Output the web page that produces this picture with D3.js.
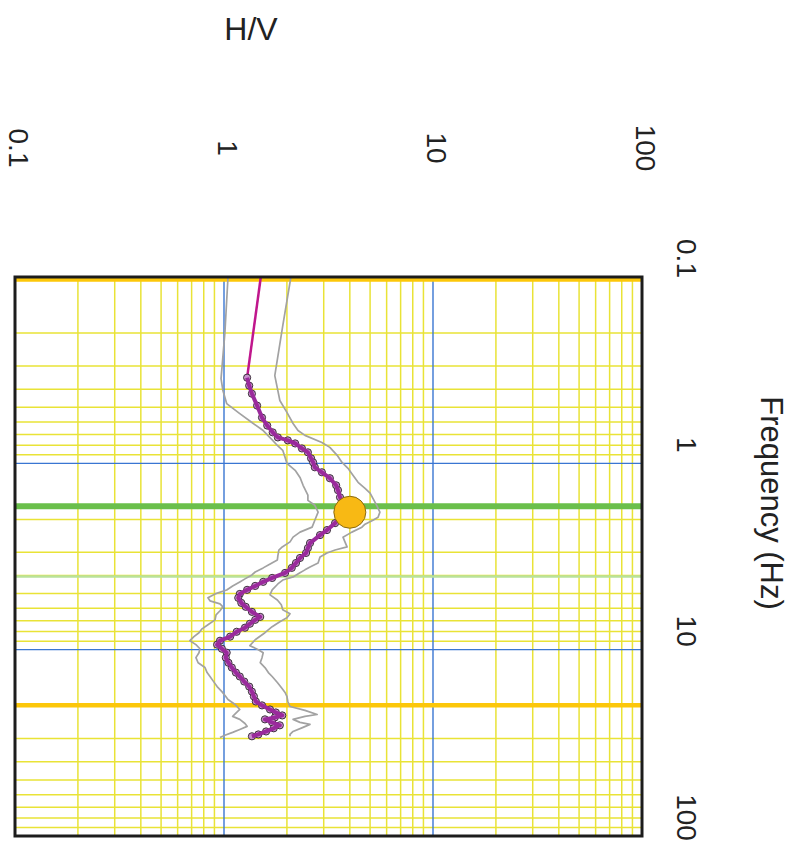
<!DOCTYPE html>
<html>
<head>
<meta charset="utf-8">
<script src="https://d3js.org/d3.v7.min.js"></script>
<style>
  body { margin: 0; background: #fff; }
  text { font-family: "Liberation Sans", Arial, sans-serif; fill: #222; }
</style>
</head>
<body>
<script>
// mean H/V curve (magenta with markers)
var freqMean = [0.1, 0.347, 0.383, 0.423, 0.49, 0.568, 0.627, 0.682, 0.726, 0.753, 0.782, 0.832, 0.873, 0.94, 0.989,
  1.05, 1.117, 1.202, 1.312, 1.393, 1.521, 1.679, 1.828, 1.968, 2.094, 2.281, 2.427, 2.679, 2.851, 3.027,
  3.221, 3.427, 3.639, 3.873, 4.121, 4.325, 4.55, 4.775, 5.023, 5.272, 5.61, 5.888, 6.266, 6.668, 6.918,
  7.261, 7.621, 8.017, 8.511, 8.954, 9.397, 9.886, 10.38, 11.04, 11.75, 12.47, 13.27, 13.93, 14.83, 15.78,
  16.79, 17.82, 18.97, 19.91, 20.94, 21.73, 22.54, 23.12, 23.66, 24.55, 25.47, 26.42, 27.48, 28.51, 29.17];
var hvMean = [1.50, 1.29, 1.32, 1.36, 1.44, 1.52, 1.61, 1.71, 1.81, 2.02, 2.19, 2.36, 2.52, 2.61, 2.67,
  2.72, 2.94, 3.21, 3.44, 3.51, 3.59, 3.79, 3.79, 3.59, 3.40, 3.11, 2.88, 2.58, 2.52, 2.47,
  2.31, 2.21, 2.11, 1.96, 1.70, 1.54, 1.41, 1.29, 1.19, 1.17, 1.21, 1.27, 1.36, 1.49, 1.41,
  1.33, 1.26, 1.15, 1.07, 0.957, 0.927, 0.977, 1.03, 1.02, 1.05, 1.09, 1.14, 1.19, 1.25, 1.32,
  1.36, 1.39, 1.42, 1.52, 1.66, 1.77, 1.90, 1.75, 1.57, 1.70, 1.85, 1.73, 1.59, 1.46, 1.36];

// lower std curve (grey)
var freqLow = [0.1, 0.199, 0.351, 0.407, 0.478, 0.541, 0.604, 0.667, 0.753, 0.802, 0.851, 0.929, 1.0, 1.09, 1.19,
  1.312, 1.48, 1.58, 1.679, 1.828, 2.02, 2.2, 2.34, 2.49, 2.64, 2.81, 2.92, 3.14, 3.3, 3.51,
  3.64, 3.83, 3.97, 4.17, 4.33, 4.55, 4.78, 5.02, 5.27, 5.47, 5.68, 5.89, 6.18, 6.5, 6.92,
  7.35, 7.73, 8.11, 8.51, 8.95, 9.4, 9.89, 10.38, 11.04, 11.75, 12.47, 13.27, 13.93, 14.66, 15.78,
  16.79, 17.82, 18.5, 19.68, 20.94, 21.73, 22.8, 23.66, 24.9, 25.8, 26.8, 27.8, 28.8, 29.6];
var hvLow = [1.045, 1.01, 0.968, 0.988, 1.03, 1.19, 1.36, 1.54, 1.71, 1.80, 1.91, 1.96, 2.00, 2.19, 2.31,
  2.39, 2.52, 2.52, 2.72, 2.82, 2.72, 2.64, 2.31, 2.14, 2.07, 1.90, 1.83, 1.81, 1.80, 1.63,
  1.54, 1.41, 1.36, 1.26, 1.19, 1.10, 1.03, 0.906, 0.838, 0.857, 0.957, 0.988, 0.957, 0.916, 0.906,
  0.838, 0.785, 0.759, 0.718, 0.687, 0.734, 0.767, 0.759, 0.734, 0.752, 0.811, 0.830, 0.857, 0.885, 0.927,
  0.977, 1.02, 1.045, 1.13, 1.19, 1.15, 1.10, 1.19, 1.26, 1.29, 1.19, 1.10, 1.01, 0.957];

// upper std curve (grey)
var freqHigh = [0.1, 0.183, 0.338, 0.407, 0.46, 0.533, 0.611, 0.667, 0.708, 0.773, 0.821, 0.906, 0.989, 1.064, 1.159,
  1.264, 1.361, 1.445, 1.58, 1.698, 1.828, 1.945, 2.02, 2.12, 2.2, 2.34, 2.49, 2.64, 2.81, 2.92,
  3.03, 3.18, 3.43, 3.6, 3.73, 3.87, 4.07, 4.23, 4.44, 4.78, 5.08, 5.41, 5.74, 6.11, 6.41,
  6.75, 7.08, 7.53, 8.11, 8.85, 9.52, 10.0, 10.38, 11.04, 11.75, 12.47, 13.27, 13.93, 15.0, 15.96,
  16.98, 17.82, 18.97, 20.18, 21.18, 22.28, 22.8, 23.66, 24.55, 25.18, 26.12, 27.48, 28.51, 29.17];
var hvHigh = [2.09, 1.91, 1.75, 1.81, 1.85, 2.00, 2.14, 2.26, 2.44, 2.94, 3.21, 3.48, 3.67, 3.92, 4.14,
  4.38, 4.73, 5.00, 5.22, 5.40, 5.57, 5.46, 5.16, 4.73, 4.57, 4.09, 3.71, 3.79, 3.88, 3.40,
  3.11, 2.88, 2.82, 2.58, 2.44, 2.31, 2.14, 1.91, 1.81, 1.70, 1.66, 1.80, 1.88, 1.91, 2.07,
  2.00, 1.85, 1.70, 1.57, 1.41, 1.33, 1.46, 1.54, 1.52, 1.49, 1.57, 1.63, 1.70, 1.80, 1.88,
  1.96, 2.00, 2.02, 2.07, 2.44, 2.79, 2.44, 2.14, 2.31, 2.58, 2.39, 2.14, 2.07, 2.07];

// peak and marker lines
var peakFreq = 1.83, peakHV = 4.0;
var greenFreq = 1.70;
var lightGreenFreq = 4.05;
var limitFreqs = [0.103, 19.9];

// tick labels
var hvTicks = [0.1, 1, 10, 100];
var freqTicks = [0.1, 1, 10, 100];
var majorLines = [1, 10];

var width = 801, height = 856;

var svg = d3.select("body").append("svg")
    .attr("width", width)
    .attr("height", height);

svg.append("rect").attr("width", width).attr("height", height).attr("fill", "#fff");

// chart is printed rotated: H/V runs left->right, frequency runs top->bottom
var x = d3.scaleLog().domain([0.1, 100]).range([15, 642]);
var y = d3.scaleLog().domain([0.1, 100]).range([277, 836]);

var plot = svg.append("g");

// minor yellow grid
var xMinor = x.ticks().filter(function(d) { return majorLines.indexOf(d) < 0 && d > 0.1 && d < 100 });
var yMinor = y.ticks().filter(function(d) { return majorLines.indexOf(d) < 0 && d > 0.1 && d < 100 });

plot.selectAll(".vminor").data(xMinor).enter().append("line")
    .attr("x1", function(d) { return x(d) }).attr("x2", function(d) { return x(d) })
    .attr("y1", y(0.1)).attr("y2", y(100))
    .attr("stroke", "#e9e336").attr("stroke-width", 1.5);

plot.selectAll(".hminor").data(yMinor).enter().append("line")
    .attr("y1", function(d) { return y(d) }).attr("y2", function(d) { return y(d) })
    .attr("x1", x(0.1)).attr("x2", x(100))
    .attr("stroke", "#e9e336").attr("stroke-width", 1.5);

// decade lines in blue
plot.selectAll(".vmajor").data(majorLines).enter().append("line")
    .attr("x1", function(d) { return x(d) }).attr("x2", function(d) { return x(d) })
    .attr("y1", y(0.1)).attr("y2", y(100))
    .attr("stroke", "#3a76d2").attr("stroke-width", 1.4);

plot.selectAll(".hmajor").data(majorLines).enter().append("line")
    .attr("y1", function(d) { return y(d) }).attr("y2", function(d) { return y(d) })
    .attr("x1", x(0.1)).attr("x2", x(100))
    .attr("stroke", "#3a76d2").attr("stroke-width", 1.4);

// frequency marker lines
plot.append("line")
    .attr("x1", x(0.1)).attr("x2", x(100))
    .attr("y1", y(lightGreenFreq)).attr("y2", y(lightGreenFreq))
    .attr("stroke", "#b9e29a").attr("stroke-width", 2.5);

plot.append("line")
    .attr("x1", x(0.1)).attr("x2", x(100))
    .attr("y1", y(greenFreq)).attr("y2", y(greenFreq))
    .attr("stroke", "#6abf4b").attr("stroke-width", 6);

plot.selectAll(".limit").data(limitFreqs).enter().append("line")
    .attr("x1", x(0.1)).attr("x2", x(100))
    .attr("y1", function(d) { return y(d) }).attr("y2", function(d) { return y(d) })
    .attr("stroke", "#fcc70a").attr("stroke-width", 4.5);

// curves
var line = d3.line()
    .x(function(d) { return x(d[1]) })
    .y(function(d) { return y(d[0]) });

var meanData = d3.zip(freqMean, hvMean);
var lowData = d3.zip(freqLow, hvLow);
var highData = d3.zip(freqHigh, hvHigh);

plot.selectAll(".std").data([lowData, highData]).enter().append("path")
    .attr("d", line)
    .attr("fill", "none")
    .attr("stroke", "#a2a2a2")
    .attr("stroke-width", 1.7)
    .attr("stroke-linejoin", "round");

// straight extrapolated part at low frequency
plot.append("path")
    .datum(meanData.slice(0, 2))
    .attr("d", line)
    .attr("fill", "none")
    .attr("stroke", "#c0168c")
    .attr("stroke-width", 2.5);

// markers first, line on top gives the purple band look
plot.selectAll(".marker").data(meanData.slice(1)).enter().append("circle")
    .attr("cx", function(d) { return x(d[1]) })
    .attr("cy", function(d) { return y(d[0]) })
    .attr("r", 3.6)
    .attr("fill", "#c890cc")
    .attr("stroke", "#2a222a")
    .attr("stroke-width", 0.9);

plot.append("path")
    .datum(meanData.slice(1))
    .attr("d", line)
    .attr("fill", "none")
    .attr("stroke", "#9a2a9c")
    .attr("stroke-width", 4)
    .attr("stroke-linejoin", "round");

plot.append("circle")
    .attr("cx", x(peakHV))
    .attr("cy", y(peakFreq))
    .attr("r", 16)
    .attr("fill", "#f8b914")
    .attr("stroke", "#8a6a10")
    .attr("stroke-width", 1);

// frame
plot.append("rect")
    .attr("x", x(0.1)).attr("y", y(0.1))
    .attr("width", x(100) - x(0.1))
    .attr("height", y(100) - y(0.1))
    .attr("fill", "none")
    .attr("stroke", "#1c1c1c")
    .attr("stroke-width", 3);

// H/V axis labels (above the plot)
var fmt = function(d) { return d < 1 ? "0.1" : d3.format("d")(d) };

var hvAxis = svg.append("g")
    .attr("transform", "translate(0,148)")
    .call(d3.axisTop(x).tickValues(hvTicks).tickFormat(fmt).tickSize(0));
hvAxis.select(".domain").remove();
hvAxis.selectAll("text")
    .attr("x", 0).attr("y", 0).attr("dy", "0.35em")
    .attr("transform", "translate(3,0) rotate(90)")
    .style("text-anchor", "middle")
    .style("font-size", "28px")
    .style("font-family", "Liberation Sans, Arial, sans-serif")
    .attr("fill", "#222");

// frequency axis labels (right of the plot)
var fAxis = svg.append("g")
    .attr("transform", "translate(687,0)")
    .call(d3.axisRight(y).tickValues(freqTicks).tickFormat(fmt).tickSize(0));
fAxis.select(".domain").remove();
fAxis.selectAll("text")
    .attr("x", 0).attr("y", 0).attr("dy", "0.35em")
    .attr("transform", "translate(0,-19) rotate(90)")
    .style("text-anchor", "middle")
    .style("font-size", "28px")
    .style("font-family", "Liberation Sans, Arial, sans-serif")
    .attr("fill", "#222");

// axis titles
svg.append("text")
    .attr("x", 251).attr("y", 40)
    .style("text-anchor", "middle")
    .style("font-size", "32px")
    .text("H/V");

svg.append("text")
    .attr("transform", "translate(772,503) rotate(90)")
    .attr("dy", "0.35em")
    .style("text-anchor", "middle")
    .style("font-size", "31px")
    .text("Frequency (Hz)");
</script>
</body>
</html>
